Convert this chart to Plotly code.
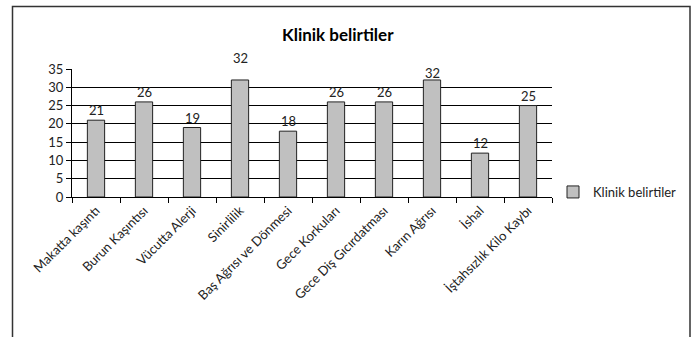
import plotly.graph_objects as go

categories = ["Makatta kaşıntı", "Burun Kaşıntısı", "Vücutta Alerji", "Sinirlilik",
              "Baş Ağrısı ve Dönmesi", "Gece Korkuları", "Gece Diş Gıcırdatması",
              "Karın Ağrısı", "İshal", "İştahsızlık Kilo Kaybı"]
values = [21, 26, 19, 32, 18, 26, 26, 32, 12, 25]
series_name = "Klinik belirtiler"
title_text = "Klinik belirtiler"
y_ticks = [0, 5, 10, 15, 20, 25, 30, 35]

FONT = "Lato"

L, R, T, B = 72, 142, 69, 140
PW, PH = 694 - L - R, 337 - T - B

def px_x(p):
    return (p - L) / PW

def px_y(p):
    return (337 - B - p) / PH

fig = go.Figure()
fig.add_trace(go.Bar(
    x=categories, y=values, name=series_name,
    marker=dict(color="#c0c0c0", line=dict(color="#222222", width=1)),
    width=0.36, showlegend=True,
))

label_shift = {3: 12, 7: -3}
annotations = []
for i, (c, v) in enumerate(zip(categories, values)):
    annotations.append(dict(
        x=c, y=v, xref="x", yref="y", text=str(v), showarrow=False,
        yanchor="bottom", yshift=label_shift.get(i, 0),
        font=dict(family=FONT, size=13, color="#222"),
    ))
annotations.append(dict(
    x=px_x(338), y=px_y(34), xref="paper", yref="paper",
    xanchor="center", yanchor="middle",
    text="<b>" + title_text + "</b>", showarrow=False,
    font=dict(family=FONT, size=17, color="#000"),
))

shapes = [
    dict(type="rect", xref="paper", yref="paper",
         x0=px_x(12.5), x1=px_x(690), y0=px_y(6.5), y1=px_y(345),
         line=dict(color="#333", width=1.5), fillcolor="rgba(0,0,0,0)", layer="below"),
]

fig.update_layout(
    width=694, height=337,
    margin=dict(l=L, r=R, t=T, b=B),
    paper_bgcolor="white", plot_bgcolor="white",
    font=dict(family=FONT, size=13, color="#222"),
    annotations=annotations, shapes=shapes,
    showlegend=True,
    legend=dict(x=px_x(553), y=px_y(192), xanchor="left", yanchor="middle",
                font=dict(family=FONT, size=13, color="#222"),
                itemwidth=30, bgcolor="rgba(0,0,0,0)"),
    xaxis=dict(type="category", tickangle=-45, showline=True, linecolor="#000",
               linewidth=1, ticks="outside", ticklen=5, tickcolor="#000",
               tickson="boundaries", showgrid=False,
               tickfont=dict(family=FONT, size=13, color="#222")),
    yaxis=dict(range=[0, 35], tickvals=y_ticks, showline=True, linecolor="#000",
               linewidth=1, ticks="outside", ticklen=5, tickcolor="#000",
               showgrid=True, gridcolor="#000", gridwidth=1, zeroline=False,
               tickfont=dict(family=FONT, size=13, color="#222")),
    bargap=0.64,
)

fig.write_html("out.html")
